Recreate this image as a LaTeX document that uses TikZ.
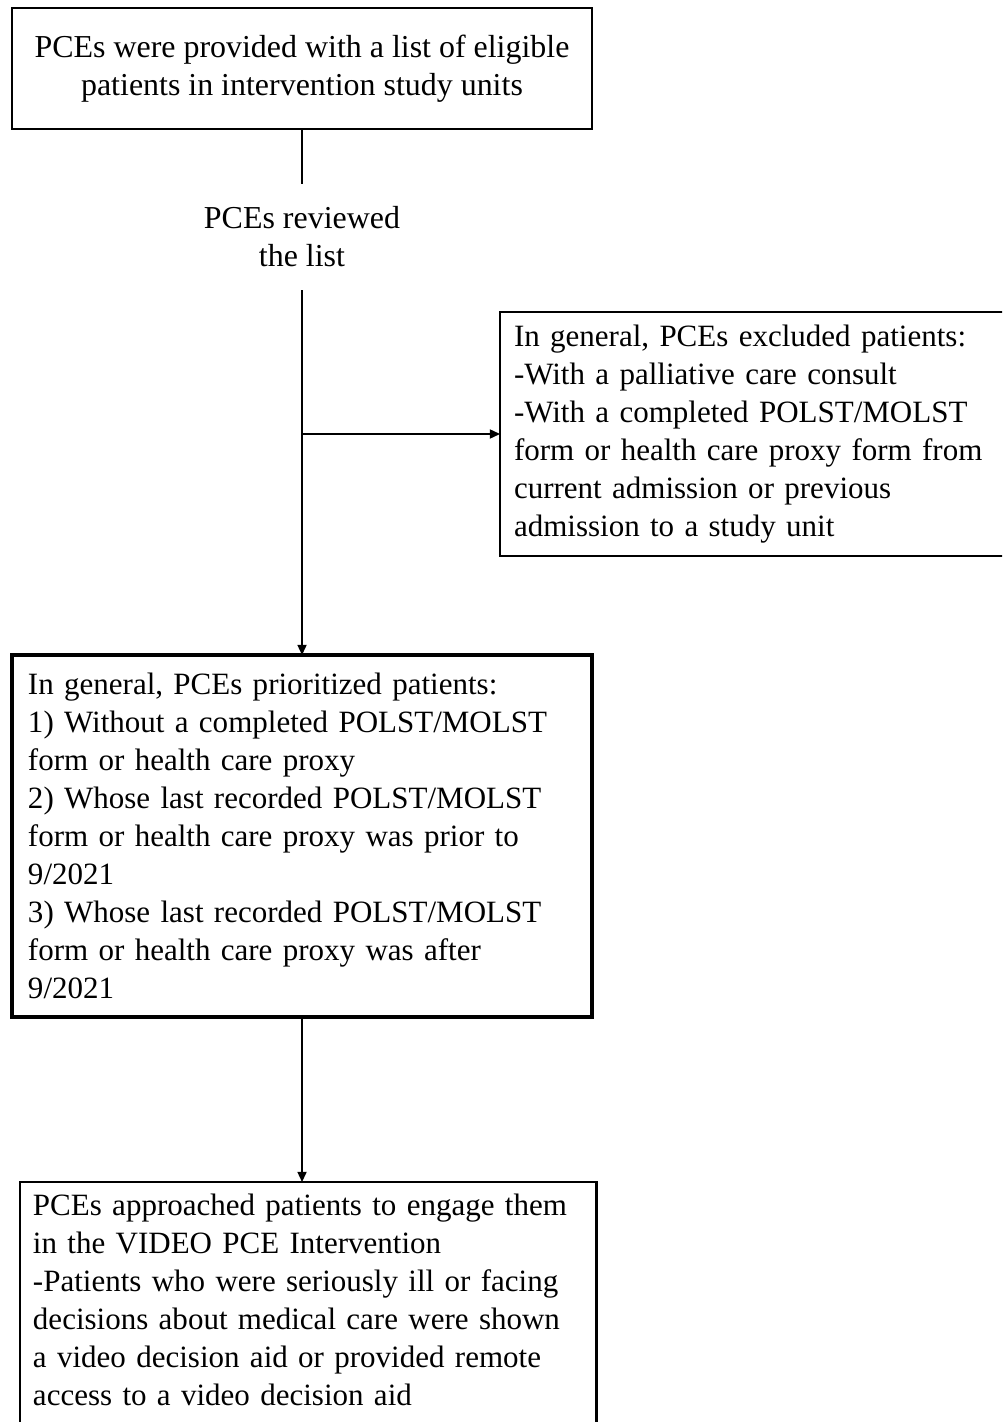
\documentclass[tikz,border=0pt]{standalone}
\usepackage{fontspec}
\setmainfont{Liberation Serif}
\usetikzlibrary{arrows.meta}

\begin{document}
\begin{tikzpicture}[x=0.3757pt,y=-0.3757pt]
	\tikzstyle{every node}+=[font=\fontsize{12pt}{14.3pt}\selectfont]
	\tikzstyle{box}=[draw=black,rectangle,anchor=north west,outer sep=0pt,line width=0.75pt]
	\tikzstyle{small}=[font=\fontsize{11.65pt}{14.3pt}\selectfont]
	\tikzstyle{link}=[black,line width=0.6pt]
	\tikzstyle{arr}=[link,-{Triangle[length=3.8pt,width=3.4pt]}]
	\useasboundingbox (0,0) rectangle (1002,1422);
	\clip (0,0) rectangle (1002,1422);
	% boxes
	\node [box,align=center,minimum width=217.9pt,minimum height=45.46pt] (list) at (12,8) {PCEs were provided with a list of eligible\\patients in intervention study units};
	\node [align=center,inner sep=0pt,minimum height=39.45pt] (review) at (302,237) {PCEs reviewed\\the list};
	\node [box,small,line width=1pt,align=left,text width=200pt,inner xsep=5.26pt,minimum height=91.67pt] (excl) at (500,312) {In general, PCEs excluded patients:\\-With a palliative care consult\\-With a completed POLST/MOLST\\form or health care proxy form from\\current admission or previous\\admission to a study unit};
	\node [box,small,line width=1.5pt,align=left,text width=205.9pt,inner xsep=6.01pt,minimum height=136pt] (prio) at (12,655) {In general, PCEs prioritized patients:\\1) Without a completed POLST/MOLST\\form or health care proxy\\2) Whose last recorded POLST/MOLST\\form or health care proxy was prior to\\9/2021\\3) Whose last recorded POLST/MOLST\\form or health care proxy was after\\9/2021};
	\node [box,small,line width=1.1pt,align=left,text width=207pt,inner xsep=4.88pt,inner ysep=4.5pt] (appr) at (20,1182) {PCEs approached patients to engage them\\in the VIDEO PCE Intervention\\-Patients who were seriously ill or facing\\decisions about medical care were shown\\a video decision aid or provided remote\\access to a video decision aid\\\mbox{}};
	% connectors
	\draw [link] (list.south) -- (review.north);
	\draw [arr] (review.south) -- (prio.north);
	\draw [arr] (review.south |- excl.west) -- (excl.west);
	\draw [arr] (prio.south) -- (prio.south |- appr.north);
\end{tikzpicture}
\end{document}
